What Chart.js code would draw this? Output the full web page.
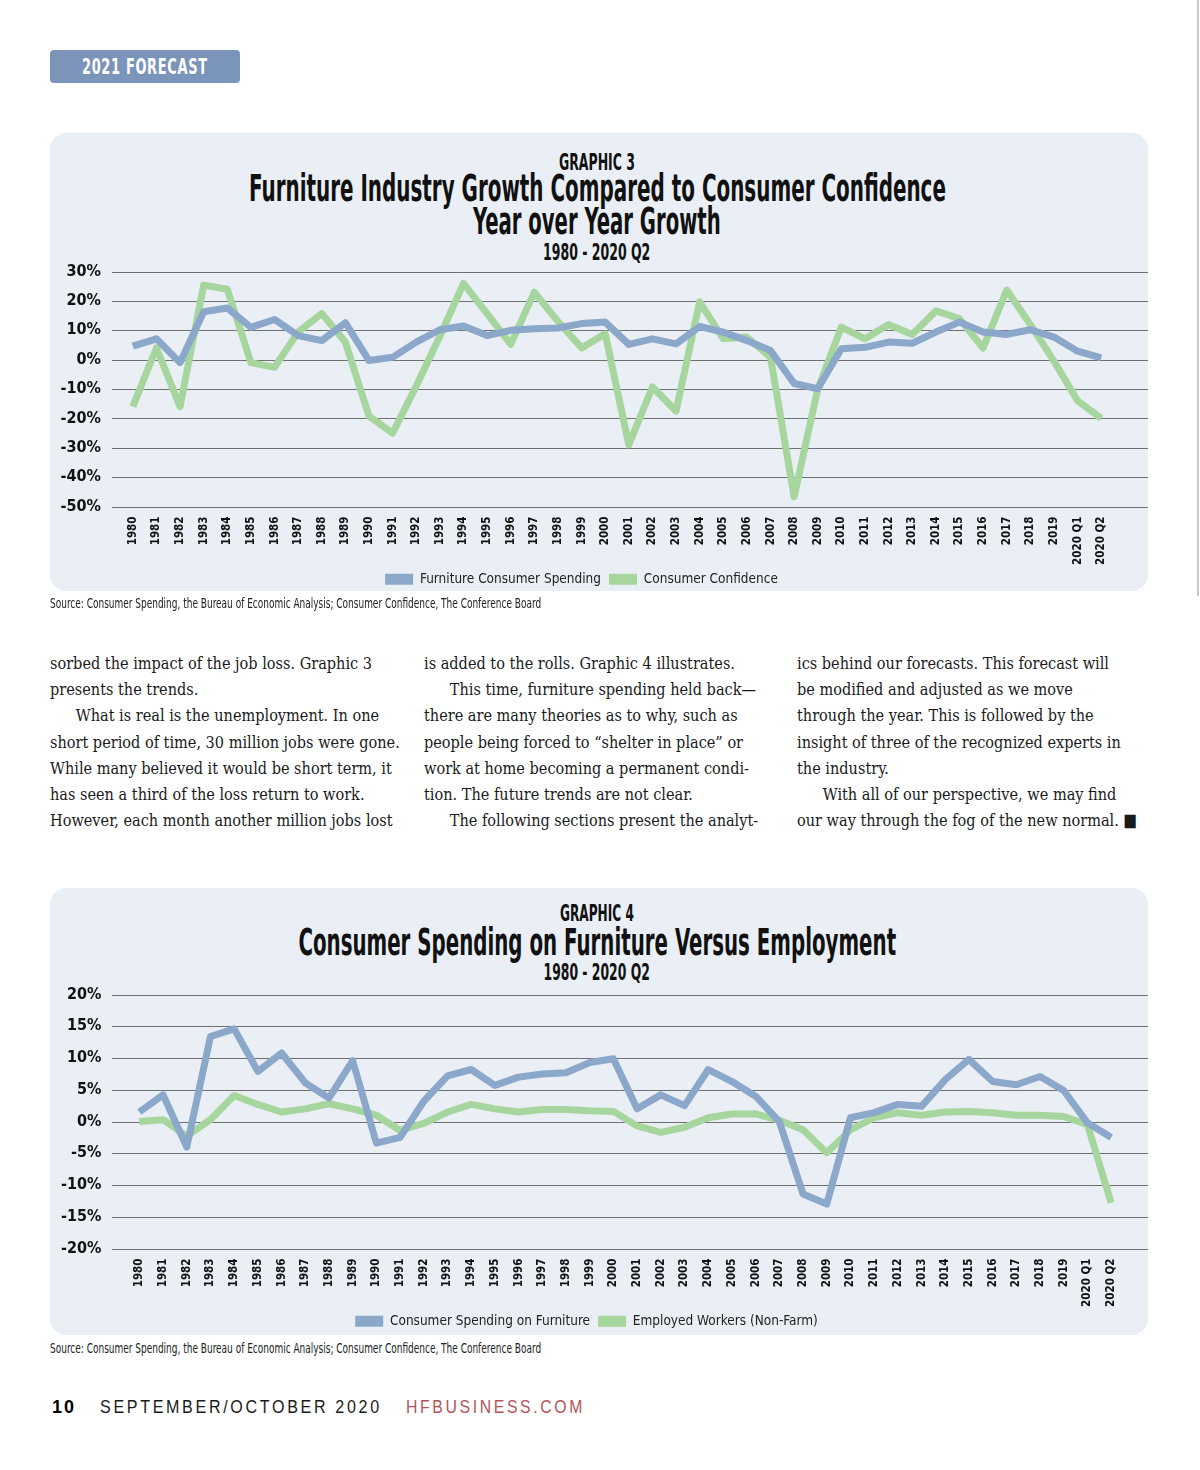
<!DOCTYPE html>
<html>
<head>
<meta charset="utf-8">
<title>2021 Forecast - Graphic 3 and 4</title>
<script src="https://cdn.jsdelivr.net/npm/chart.js@4.4.1/dist/chart.umd.min.js"></script>
<style>
  html, body { margin: 0; padding: 0; background: #fff; }
  #page { position: relative; width: 1200px; height: 1470px; overflow: hidden; }
  .abs { position: absolute; }
  .narrow { font-family: 'Liberation Sans Narrow', 'DejaVu Sans Condensed', sans-serif; }
  .tag { left: 50px; top: 50px; width: 190px; height: 33px; background: #7a94ba; border-radius: 4px; }
  .panel { left: 50px; width: 1098px; background: #eaeff6; border-radius: 16px; }
  .fit { position: absolute; display: flex; justify-content: center; white-space: nowrap; color: #111; font-weight: bold; }
  .fit > span { display: inline-block; transform-origin: center center; }
  .src { white-space: nowrap; color: #222; font-size: 14px; }
  .src > span { display: inline-block; transform-origin: left center; }
  .col { top: 650px; font-family: 'DejaVu Serif Condensed', 'Liberation Serif', serif; font-size: 17.5px; line-height: 26.2px; color: #1a1a1a; transform-origin: left top; white-space: nowrap; }
  .col .ind { padding-left: 28px; }
  .edge { left: 1197px; top: 0; width: 2px; height: 596px; background: #c9c9c9; }
  .foot { top: 1396px; font-family: 'Liberation Sans', Arial, sans-serif; font-size: 18px; line-height: 22px; white-space: nowrap; }
  .foot > span { display: inline-block; transform-origin: left center; }
  canvas { position: absolute; }
</style>
</head>
<body>
<div id="page">
  <div class="abs edge"></div>

  <div class="abs tag"></div>
  <div class="fit narrow" data-w="126" style="left:50px;width:190px;top:54px;font-size:22px;line-height:26px;color:#fff;letter-spacing:1px;"><span>2021 FORECAST</span></div>

  <!-- Graphic 3 -->
  <div class="abs panel" style="top:133px;height:458px;"></div>
  <div class="fit narrow" data-w="76" style="left:50px;width:1094px;top:150px;font-size:23px;line-height:24px;"><span>GRAPHIC 3</span></div>
  <div class="fit narrow" data-w="697" style="left:50px;width:1094px;top:170px;font-size:37px;line-height:38px;"><span>Furniture Industry Growth Compared to Consumer Confidence</span></div>
  <div class="fit narrow" data-w="248" style="left:50px;width:1094px;top:203px;font-size:37px;line-height:38px;"><span>Year over Year Growth</span></div>
  <div class="fit narrow" data-w="107" style="left:50px;width:1094px;top:240px;font-size:23px;line-height:24px;"><span>1980 - 2020 Q2</span></div>
  <canvas id="chart3" width="1098" height="330" style="left:50px;top:262px;"></canvas>
  <div class="abs src narrow" data-w="491" style="left:50px;top:595px;"><span>Source: Consumer Spending, the Bureau of Economic Analysis; Consumer Confidence, The Conference Board</span></div>

  <!-- article text -->
  <div class="abs col" style="left:50px;">
    <div>sorbed the impact of the job loss. Graphic 3</div>
    <div>presents the trends.</div>
    <div class="ind">What is real is the unemployment. In one</div>
    <div id="widest">short period of time, 30 million jobs were gone.</div>
    <div>While many believed it would be short term, it</div>
    <div>has seen a third of the loss return to work.</div>
    <div>However, each month another million jobs lost</div>
  </div>
  <div class="abs col" style="left:424px;">
    <div>is added to the rolls. Graphic 4 illustrates.</div>
    <div class="ind">This time, furniture spending held back—</div>
    <div>there are many theories as to why, such as</div>
    <div>people being forced to “shelter in place” or</div>
    <div>work at home becoming a permanent condi-</div>
    <div>tion. The future trends are not clear.</div>
    <div class="ind">The following sections present the analyt-</div>
  </div>
  <div class="abs col" style="left:797px;">
    <div>ics behind our forecasts. This forecast will</div>
    <div>be modified and adjusted as we move</div>
    <div>through the year. This is followed by the</div>
    <div>insight of three of the recognized experts in</div>
    <div>the industry.</div>
    <div class="ind">With all of our perspective, we may find</div>
    <div>our way through the fog of the new normal. ■</div>
  </div>

  <!-- Graphic 4 -->
  <div class="abs panel" style="top:888px;height:447px;"></div>
  <div class="fit narrow" data-w="74" style="left:50px;width:1094px;top:901px;font-size:23px;line-height:24px;"><span>GRAPHIC 4</span></div>
  <div class="fit narrow" data-w="598" style="left:50px;width:1094px;top:924px;font-size:37px;line-height:38px;"><span>Consumer Spending on Furniture Versus Employment</span></div>
  <div class="fit narrow" data-w="106" style="left:50px;width:1094px;top:960px;font-size:23px;line-height:24px;"><span>1980 - 2020 Q2</span></div>
  <canvas id="chart4" width="1098" height="340" style="left:50px;top:985px;"></canvas>
  <div class="abs src narrow" data-w="491" style="left:50px;top:1340px;"><span>Source: Consumer Spending, the Bureau of Economic Analysis; Consumer Confidence, The Conference Board</span></div>

  <!-- footer -->
  <div class="abs foot" data-w="24" style="left:52px;font-weight:bold;letter-spacing:2px;"><span>10</span></div>
  <div class="abs foot" data-w="282" style="left:100px;letter-spacing:3px;color:#1a1a1a;"><span>SEPTEMBER/OCTOBER 2020</span></div>
  <div class="abs foot" data-w="179" style="left:406px;letter-spacing:3px;color:#b5535a;"><span>HFBUSINESS.COM</span></div>
</div>

<script>
// categories shared by both graphics
const years = ['1980', '1981', '1982', '1983', '1984', '1985', '1986', '1987', '1988', '1989',
    '1990', '1991', '1992', '1993', '1994', '1995', '1996', '1997', '1998', '1999',
    '2000', '2001', '2002', '2003', '2004', '2005', '2006', '2007', '2008', '2009',
    '2010', '2011', '2012', '2013', '2014', '2015', '2016', '2017', '2018', '2019',
    '2020 Q1', '2020 Q2'];

// Graphic 3 - year over year growth (%)
const furnitureConsumerSpending = [4.6, 7.1, -1, 16.3, 17.6, 11, 13.7, 8.2, 6.5, 12.6,
    -0.3, 0.8, 6, 10.2, 11.5, 8.2, 10, 10.5, 10.8, 12.3,
    12.8, 5.2, 7.1, 5.4, 11.3, 9.4, 6.5, 3.1, -8.1, -9.9,
    3.7, 4.2, 6, 5.6, 9.4, 12.8, 9.4, 8.6, 10.2, 7.7,
    2.9, 0.6];
const consumerConfidence = [-16, 4, -16, 25.4, 24, -1, -2.6, 9.4, 15.7, 6,
    -19.2, -25, -9, 8, 26, 15.7, 5.2, 23, 13, 4,
    8.8, -29, -9.3, -17.5, 19.7, 7.1, 7.7, 0.8, -46.7, -10,
    11.1, 7.1, 12, 8.6, 16.6, 14, 4, 23.7, 12, -0.5,
    -14, -20];
const yRange3 = [-50, 30, 10];   // min, max, step

// Graphic 4 - consumer spending on furniture vs employment (%)
const consumerSpendingFurniture = [1.5, 4.2, -4, 13.4, 14.6, 7.9, 10.8, 6.1, 3.7, 9.6,
    -3.4, -2.5, 3.2, 7.2, 8.2, 5.7, 7, 7.5, 7.7, 9.3,
    9.9, 2, 4.2, 2.5, 8.2, 6.3, 4, 0, -11.4, -13,
    0.6, 1.4, 2.7, 2.4, 6.6, 9.8, 6.3, 5.8, 7.1, 4.9,
    -0.2, -2.5];
const employedWorkers = [0, 0.3, -2.3, 0.3, 4.1, 2.7, 1.5, 2, 2.8, 2,
    1, -1.4, -0.3, 1.5, 2.7, 2, 1.5, 1.9, 1.9, 1.7,
    1.6, -0.7, -1.7, -0.9, 0.6, 1.2, 1.2, 0.2, -1.3, -4.9,
    -1.3, 0.6, 1.4, 1, 1.5, 1.6, 1.4, 1, 1, 0.8,
    -0.5, -12.8];
const yRange4 = [-20, 20, 5];

const BLUE = '#8ba7c9';
const GREEN = '#a7d59e';
const NARROW = "'Liberation Sans Narrow', 'DejaVu Sans Condensed', sans-serif";

/**
 * Squeezes a text block horizontally so it spans the width given in data-w.
 */
function fitWidths() {
    document.querySelectorAll('[data-w]').forEach(el => {
        const span = el.firstElementChild;
        const k = +el.dataset.w / span.offsetWidth;
        span.style.transform = `scaleX(${k})`;
    });
    // body copy: one factor for all columns, taken from the widest line
    const widest = document.getElementById('widest');
    const k = 350 / widest.scrollWidth;
    document.querySelectorAll('.col').forEach(c => c.style.transform = `scaleX(${k})`);
}

// horizontal rules drawn across the whole panel, like the original
const wideGrid = {
    id: 'wideGrid',
    beforeDatasetsDraw(chart, args, opts) {
        const y = chart.scales.y;
        const ctx = chart.ctx;
        ctx.save();
        ctx.strokeStyle = '#707070';
        ctx.lineWidth = 1.2;
        y.ticks.forEach(t => {
            const py = Math.round(y.getPixelForValue(t.value)) + 0.5;
            ctx.beginPath();
            ctx.moveTo(opts.from, py);
            ctx.lineTo(chart.width, py);
            ctx.stroke();
        });
        ctx.restore();
    }
};

/**
 * Resizes / moves the canvas until the plot area sits on the page rows given.
 */
function placePlotArea(chart, canvasLeft, top, bottom) {
    for (let i = 0; i < 4; i++) {
        const a = chart.chartArea;
        const dh = (bottom - top) - (a.bottom - a.top);
        if (Math.abs(dh) < 0.5) break;
        chart.resize(chart.width, Math.round(chart.height + dh));
    }
    chart.canvas.style.top = (top - chart.chartArea.top) + 'px';
    chart.canvas.style.left = canvasLeft + 'px';
}

/**
 * Builds one of the two line charts.
 */
function renderLineChart(id, names, series, range, layout) {
    const ctx = document.getElementById(id);
    const chart = new Chart(ctx, {
        type: 'line',
        data: {
            labels: years,
            datasets: [{
                label: names[0],
                data: series[0],
                borderColor: BLUE,
                backgroundColor: BLUE,
                borderWidth: 7,
                pointRadius: 0,
                tension: 0,
                borderJoinStyle: 'round',
                order: 1
            }, {
                label: names[1],
                data: series[1],
                borderColor: GREEN,
                backgroundColor: GREEN,
                borderWidth: 7,
                pointRadius: 0,
                tension: 0,
                borderJoinStyle: 'round',
                order: 2
            }]
        },
        options: {
            responsive: false,
            maintainAspectRatio: false,
            animation: false,
            layout: { padding: { top: 12, right: layout.right, bottom: 2, left: 0 } },
            scales: {
                x: {
                    offset: true,
                    grid: { display: false, drawTicks: false },
                    border: { display: false },
                    ticks: {
                        autoSkip: false,
                        minRotation: 90,
                        maxRotation: 90,
                        padding: 10,
                        color: '#111',
                        font: { family: NARROW, size: 11.5, weight: 'bold' }
                    },
                    afterFit: s => { s.height = 58; }
                },
                y: {
                    min: range[0],
                    max: range[1],
                    grid: { display: false, drawTicks: false },
                    border: { display: false },
                    ticks: {
                        stepSize: range[2],
                        padding: layout.tickPad,
                        color: '#111',
                        font: { family: NARROW, size: 16, weight: 'bold' },
                        callback: v => v + '%'
                    },
                    afterFit: s => { s.width = layout.left; }
                }
            },
            plugins: {
                wideGrid: { from: 62 },
                tooltip: { enabled: false },
                legend: {
                    position: 'bottom',
                    labels: {
                        boxWidth: 28,
                        boxHeight: 11,
                        padding: 8,
                        color: '#222',
                        font: { family: NARROW, size: 13.5 },
                        generateLabels: chart => Chart.defaults.plugins.legend.labels.generateLabels(chart)
                            .map(l => Object.assign(l, { lineWidth: 0, fillStyle: l.strokeStyle }))
                    }
                }
            }
        },
        plugins: [wideGrid]
    });
    placePlotArea(chart, 50, layout.top, layout.bottom);
}

document.addEventListener('DOMContentLoaded', () => {
    fitWidths();
    renderLineChart('chart3', ['Furniture Consumer Spending', 'Consumer Confidence'],
        [furnitureConsumerSpending, consumerConfidence], yRange3,
        { left: 71, right: 35, tickPad: 20, top: 272, bottom: 507 });
    renderLineChart('chart4', ['Consumer Spending on Furniture', 'Employed Workers (Non-Farm)'],
        [consumerSpendingFurniture, employedWorkers], yRange4,
        { left: 77.5, right: 25, tickPad: 26, top: 995, bottom: 1249 });
});
</script>
</body>
</html>
